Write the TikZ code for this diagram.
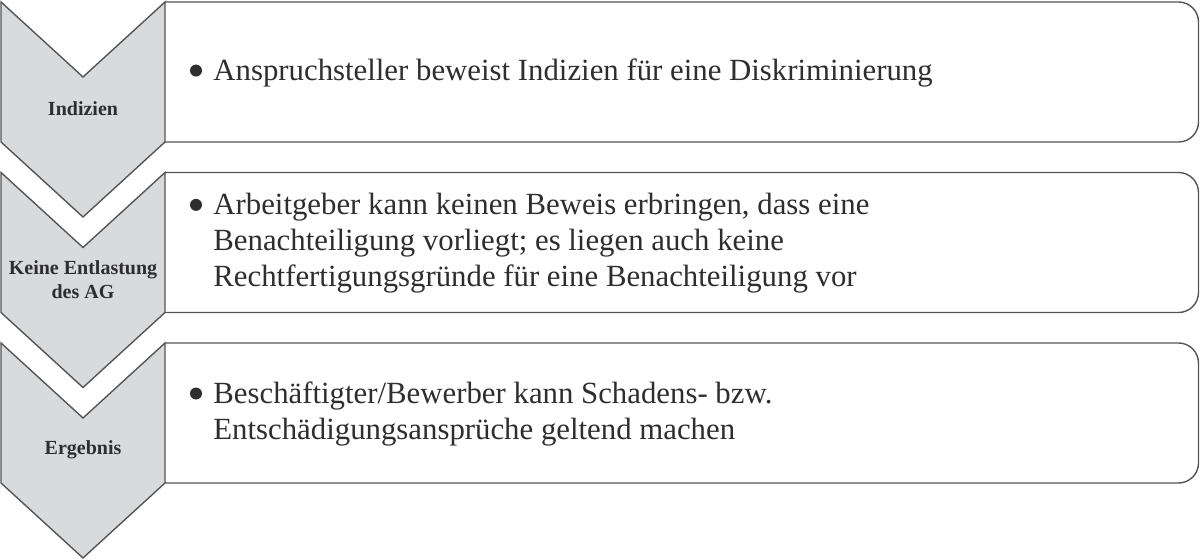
\documentclass[tikz,border=0pt]{standalone}
\usepackage{fontspec}
\setmainfont{Liberation Serif}
\definecolor{chevgray}{HTML}{D9DADC}
\definecolor{linegray}{HTML}{555555}
\definecolor{txtgray}{HTML}{2E2E2E}

\begin{document}
\begin{tikzpicture}[x=0.5pt, y=-0.5pt]
        \useasboundingbox (0,0) rectangle (1200,560);
        \foreach \t/\lab/\txt in {0/{Indizien}/{Anspruchsteller beweist Indizien für eine Diskriminierung},
                1/{Keine Entlastung\\des AG}/{Arbeitgeber kann keinen Beweis erbringen, dass eine\\Benachteiligung vorliegt; es liegen auch keine\\Rechtfertigungsgründe für eine Benachteiligung vor},
                2/{Ergebnis}/{Beschäftigter/Bewerber kann Schadens- bzw.\\Entschädigungsansprüche geltend machen}} {
            \pgfmathsetmacro{\y}{2+170.5*\t}
            \draw[fill=chevgray, draw=linegray, line width=0.7pt] (1,\y) -- (83,\y+75) -- (165,\y) -- (165,\y+140) -- (83,\y+215) -- (1,\y+140) -- cycle;
            \draw[draw=linegray, line width=0.7pt, rounded corners=10pt] (165,\y) -- (1198.5,\y) -- (1198.5,\y+140) -- (165,\y+140);
            \node[font=\bfseries\fontsize{10}{12}\selectfont, align=center, text=txtgray, inner sep=0pt] (l\t) at (83,\y+107) {\lab};
            \node[anchor=west, inner sep=0pt, text=txtgray, font=\fontsize{15.4}{18}\selectfont] (b\t) at (213,\y+71)
                {\parbox[t]{490pt}{\raggedright\txt}};
            \node[circle, fill=txtgray, inner sep=0pt, minimum size=6pt] (d\t) at ([xshift=-8.5pt, yshift=5pt]b\t.base west) {};
        }
\end{tikzpicture}
\end{document}
